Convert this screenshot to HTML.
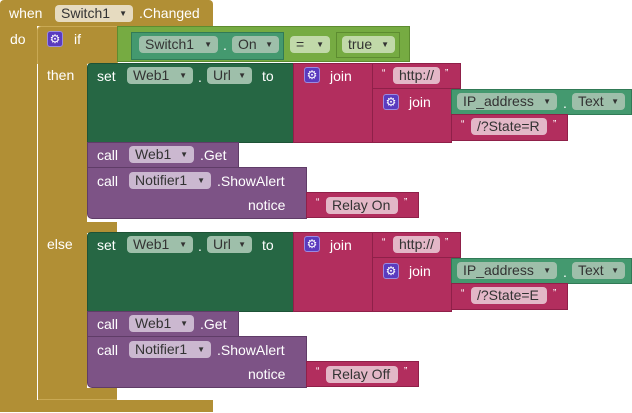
<!DOCTYPE html>
<html><head><meta charset="utf-8"><style>
body{margin:0;width:632px;height:413px;background:#fff;position:relative;overflow:hidden;font-family:"Liberation Sans",sans-serif;font-size:14px}
div{position:absolute;box-sizing:border-box}
.g{background:#b18f35}
.ifb{background:#b18f35;border:1px solid #c9a954}
.t{color:#fff;line-height:16px;white-space:nowrap}
.f{border-radius:4px;color:#333;line-height:17px;height:17px;padding-left:6px;white-space:nowrap}
.f i{font-style:normal;font-size:8px;position:absolute;right:6px;top:0}
.fg{background:#e6dbc0}
.fl{background:rgba(255,255,255,.55)}
.fm{background:#e3b7c7}
.fp{background:#cbb8d0}
.fd{background:#9ebfaa}
.gear{width:16px;height:16px;background:#5a3bbf;border:1px solid #9a8be0;border-radius:3px;color:#fff;font-size:12px;line-height:14px;text-align:center}
.set{background:#266744;border:1px solid #1d5236}
.jn{background:#b22e5e;border:1px solid #8f2049}
.pu{background:#7d5386;border:1px solid #5f3c67}
.gr{background:#44996f;border:1px solid #317a56}
</style></head><body>
<!-- event block -->
<div class="g" style="left:0;top:0;width:213px;height:26px;border-radius:4px 4px 0 0"></div>
<div class="g" style="left:0;top:26px;width:37px;height:386px"></div>
<div class="g" style="left:0;top:400px;width:213px;height:12px"></div>
<div class="t" style="left:9px;top:5px">when</div>
<div class="f fg" style="left:55px;top:5px;width:78px">Switch1<i>▼</i></div>
<div class="t" style="left:139px;top:5px">.Changed</div>
<div class="t" style="left:10px;top:31px">do</div>
<!-- if block -->
<div class="ifb" style="left:37px;top:26px;width:81px;height:38px;border-radius:4px 0 0 0"></div>
<div class="g" style="left:38px;top:60px;width:49px;height:340px"></div>
<div class="g" style="left:38px;top:222px;width:79px;height:11px"></div>
<div class="g" style="left:38px;top:388px;width:79px;height:12px;border-bottom:1px solid #c9a954"></div>
<div class="gear" style="left:47px;top:31px">⚙</div>
<div class="t" style="left:74px;top:31px">if</div>
<div class="t" style="left:47px;top:67px">then</div>
<div class="t" style="left:47px;top:236px">else</div>
<!-- condition -->
<div style="left:117px;top:26px;width:293px;height:36px;background:#76ab42;border:1px solid #5d8c30"></div>
<div class="gr" style="left:131px;top:32px;width:153px;height:28px"></div>
<div class="f fd" style="left:139px;top:36px;width:79px">Switch1<i>▼</i></div>
<div class="t" style="left:223px;top:37px">.</div>
<div class="f fd" style="left:232px;top:36px;width:47px">On<i>▼</i></div>
<div class="f fl" style="left:290px;top:36px;width:40px">=<i>▼</i></div>
<div style="left:336px;top:32px;width:64px;height:26px;background:#76ab42;border:1px solid #5d8c30"></div>
<div class="f fl" style="left:342px;top:36px;width:53px">true<i>▼</i></div>

<!-- THEN section -->
<div class="set" style="left:87px;top:63px;width:207px;height:80px;border-radius:4px 0 0 0"></div>
<div class="t" style="left:97px;top:68px">set</div>
<div class="f fd" style="left:127px;top:67px;width:66px">Web1<i>▼</i></div>
<div class="t" style="left:198px;top:69px">.</div>
<div class="f fd" style="left:207px;top:67px;width:45px">Url<i>▼</i></div>
<div class="t" style="left:262px;top:68px">to</div>
<div class="jn" style="left:293px;top:63px;width:80px;height:80px"></div>
<div class="gear" style="left:304px;top:67px">⚙</div>
<div class="t" style="left:330px;top:68px">join</div>
<div class="jn" style="left:372px;top:63px;width:89px;height:26px"></div>
<div class="t" style="left:382px;top:66px;font-size:10px">“</div>
<div class="f fm" style="left:393px;top:67px;width:47px">http://</div>
<div class="t" style="left:445px;top:66px;font-size:10px">”</div>
<div class="jn" style="left:372px;top:88px;width:80px;height:55px"></div>
<div class="gear" style="left:383px;top:94px">⚙</div>
<div class="t" style="left:409px;top:94px">join</div>
<div class="gr" style="left:451px;top:89px;width:181px;height:26px"></div>
<div class="f fd" style="left:457px;top:93px;width:100px">IP_address<i>▼</i></div>
<div class="t" style="left:563px;top:95px">.</div>
<div class="f fd" style="left:572px;top:93px;width:53px">Text<i>▼</i></div>
<div class="jn" style="left:451px;top:114px;width:117px;height:27px"></div>
<div class="t" style="left:461px;top:117px;font-size:10px">“</div>
<div class="f fm" style="left:471px;top:118px;width:76px">/?State=R</div>
<div class="t" style="left:553px;top:117px;font-size:10px">”</div>

<div class="pu" style="left:87px;top:142px;width:152px;height:26px"></div>
<div class="t" style="left:97px;top:147px">call</div>
<div class="f fp" style="left:129px;top:146px;width:65px">Web1<i>▼</i></div>
<div class="t" style="left:200px;top:147px">.Get</div>
<div class="pu" style="left:87px;top:167px;width:220px;height:52px;border-radius:0 0 0 5px"></div>
<div class="t" style="left:97px;top:173px">call</div>
<div class="f fp" style="left:129px;top:172px;width:82px">Notifier1<i>▼</i></div>
<div class="t" style="left:217px;top:173px">.ShowAlert</div>
<div class="t" style="left:248px;top:197px">notice</div>
<div class="jn" style="left:306px;top:192px;width:113px;height:26px"></div>
<div class="t" style="left:316px;top:195px;font-size:10px">“</div>
<div class="f fm" style="left:326px;top:197px;width:72px">Relay On</div>
<div class="t" style="left:404px;top:195px;font-size:10px">”</div>

<!-- ELSE section -->
<div class="set" style="left:87px;top:232px;width:207px;height:80px;border-radius:4px 0 0 0"></div>
<div class="t" style="left:97px;top:237px">set</div>
<div class="f fd" style="left:127px;top:236px;width:66px">Web1<i>▼</i></div>
<div class="t" style="left:198px;top:238px">.</div>
<div class="f fd" style="left:207px;top:236px;width:45px">Url<i>▼</i></div>
<div class="t" style="left:262px;top:237px">to</div>
<div class="jn" style="left:293px;top:232px;width:80px;height:80px"></div>
<div class="gear" style="left:304px;top:236px">⚙</div>
<div class="t" style="left:330px;top:237px">join</div>
<div class="jn" style="left:372px;top:232px;width:89px;height:26px"></div>
<div class="t" style="left:382px;top:235px;font-size:10px">“</div>
<div class="f fm" style="left:393px;top:236px;width:47px">http://</div>
<div class="t" style="left:445px;top:235px;font-size:10px">”</div>
<div class="jn" style="left:372px;top:257px;width:80px;height:55px"></div>
<div class="gear" style="left:383px;top:263px">⚙</div>
<div class="t" style="left:409px;top:263px">join</div>
<div class="gr" style="left:451px;top:258px;width:181px;height:26px"></div>
<div class="f fd" style="left:457px;top:262px;width:100px">IP_address<i>▼</i></div>
<div class="t" style="left:563px;top:264px">.</div>
<div class="f fd" style="left:572px;top:262px;width:53px">Text<i>▼</i></div>
<div class="jn" style="left:451px;top:283px;width:117px;height:27px"></div>
<div class="t" style="left:461px;top:286px;font-size:10px">“</div>
<div class="f fm" style="left:471px;top:287px;width:76px">/?State=E</div>
<div class="t" style="left:553px;top:286px;font-size:10px">”</div>

<div class="pu" style="left:87px;top:311px;width:152px;height:26px"></div>
<div class="t" style="left:97px;top:316px">call</div>
<div class="f fp" style="left:129px;top:315px;width:65px">Web1<i>▼</i></div>
<div class="t" style="left:200px;top:316px">.Get</div>
<div class="pu" style="left:87px;top:336px;width:220px;height:52px;border-radius:0 0 0 5px"></div>
<div class="t" style="left:97px;top:342px">call</div>
<div class="f fp" style="left:129px;top:341px;width:82px">Notifier1<i>▼</i></div>
<div class="t" style="left:217px;top:342px">.ShowAlert</div>
<div class="t" style="left:248px;top:366px">notice</div>
<div class="jn" style="left:306px;top:361px;width:113px;height:26px"></div>
<div class="t" style="left:316px;top:364px;font-size:10px">“</div>
<div class="f fm" style="left:326px;top:366px;width:72px">Relay Off</div>
<div class="t" style="left:404px;top:364px;font-size:10px">”</div>
</body></html>
